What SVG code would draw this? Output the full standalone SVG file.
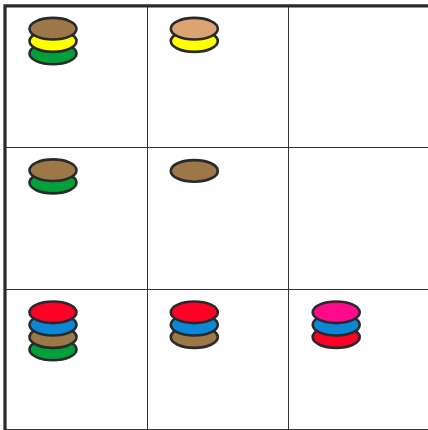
<svg xmlns="http://www.w3.org/2000/svg" width="428" height="430" viewBox="0 0 428 430">
<style>
.g{stroke:#333;stroke-width:1;fill:none}
.b{stroke:#2a2a2a;stroke-width:3.2;fill:none}
ellipse{stroke:#2a2a2a;stroke-width:2.6}
.br{fill:#9c7848}.tn{fill:#dca472}.ye{fill:#ffff00}.gr{fill:#00a03a}
.rd{fill:#ff0026}.bl{fill:#0a88d6}.pk{fill:#ff0a8c}
</style>
<rect width="428" height="430" fill="#fff"/>
<g id="grid">
<path class="g" d="M147.5,6V430M288.5,6V430M5,147.5H428M5,289.5H428M5,429.5H428"/>
<path class="b" d="M5,430V5.8H428"/>
</g>
<g id="c11">
<ellipse class="gr" cx="53" cy="53.5" rx="23.5" ry="10.8"/>
<ellipse class="ye" cx="53" cy="41.1" rx="23.5" ry="10.8"/>
<ellipse class="br" cx="53" cy="28.7" rx="23.5" ry="10.8"/>
</g>
<g id="c12">
<ellipse class="ye" cx="194.3" cy="41.1" rx="23.5" ry="10.8"/>
<ellipse class="tn" cx="194.3" cy="28.7" rx="23.5" ry="10.8"/>
</g>
<g id="c21">
<ellipse class="gr" cx="53" cy="182.6" rx="23.5" ry="10.8"/>
<ellipse class="br" cx="53" cy="170.2" rx="23.5" ry="10.8"/>
</g>
<g id="c22">
<ellipse class="br" cx="194.3" cy="170.9" rx="23.5" ry="10.8"/>
</g>
<g id="c31">
<ellipse class="gr" cx="53" cy="349.5" rx="23.5" ry="10.8"/>
<ellipse class="br" cx="53" cy="337.1" rx="23.5" ry="10.8"/>
<ellipse class="bl" cx="53" cy="324.7" rx="23.5" ry="10.8"/>
<ellipse class="rd" cx="53" cy="312.3" rx="23.5" ry="10.8"/>
</g>
<g id="c32">
<ellipse class="br" cx="194.3" cy="337.1" rx="23.5" ry="10.8"/>
<ellipse class="bl" cx="194.3" cy="324.7" rx="23.5" ry="10.8"/>
<ellipse class="rd" cx="194.3" cy="312.3" rx="23.5" ry="10.8"/>
</g>
<g id="c33">
<ellipse class="rd" cx="336.2" cy="337.1" rx="23.5" ry="10.8"/>
<ellipse class="bl" cx="336.2" cy="324.7" rx="23.5" ry="10.8"/>
<ellipse class="pk" cx="336.2" cy="312.3" rx="23.5" ry="10.8"/>
</g>
</svg>
